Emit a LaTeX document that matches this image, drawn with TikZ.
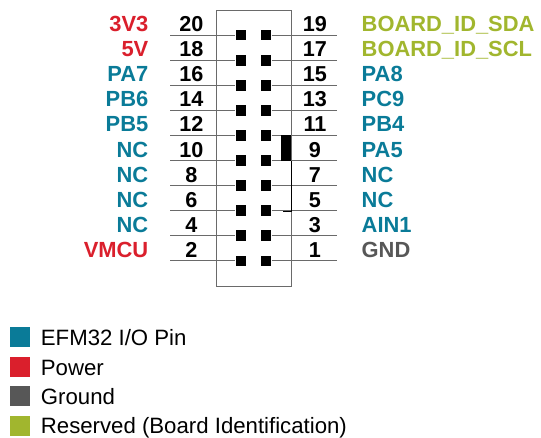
\documentclass[tikz,border=0pt]{standalone}
\usepackage{fontspec}
\setmainfont{Liberation Sans}
\definecolor{ioteal}{HTML}{0A7B98}
\definecolor{pwred}{HTML}{DA1F2C}
\definecolor{gndgrey}{HTML}{575757}
\definecolor{resgreen}{HTML}{A1B62E}
\definecolor{linegrey}{HTML}{6A6A6A}
\begin{document}
\begin{tikzpicture}[x=1pt,y=-1pt,
  pinnum/.style={inner sep=0pt,anchor=base,font=\fontsize{21.6}{24}\bfseries\selectfont},
  lbl/.style={inner sep=0pt,font=\fontsize{21.9}{24}\bfseries\selectfont},
  lbll/.style={lbl,anchor=base east},
  lblr/.style={lbl,anchor=base west},
  pad/.style={fill=black,draw=none,minimum size=10.8pt,inner sep=0pt},
  pinline/.style={draw=linegrey,line width=0.9pt},
  legsq/.style={draw=none,minimum size=20pt,inner sep=0pt,anchor=north west},
  legtxt/.style={inner sep=0pt,anchor=base west,font=\fontsize{22.2}{26}\selectfont}]
\useasboundingbox (0,0) rectangle (541,437);
% connector body
\draw[linegrey,line width=0.9pt] (216,10.7) rectangle (291,286);
% pin rows
\foreach \k/\ln/\ll/\lc/\rn/\rl/\rc in {
  0/20/3V3/pwred/19/BOARD\_ID\_SDA/resgreen,
  1/18/5V/pwred/17/BOARD\_ID\_SCL/resgreen,
  2/16/PA7/ioteal/15/PA8/ioteal,
  3/14/PB6/ioteal/13/PC9/ioteal,
  4/12/PB5/ioteal/11/PB4/ioteal,
  5/10/NC/ioteal/9/PA5/ioteal,
  6/8/NC/ioteal/7/NC/ioteal,
  7/6/NC/ioteal/5/NC/ioteal,
  8/4/NC/ioteal/3/AIN1/ioteal,
  9/2/VMCU/pwred/1/GND/gndgrey}{
  \pgfmathsetmacro{\yy}{35+25.1*\k}
  \pgfmathsetmacro{\yb}{\yy-3.5}
  \coordinate (lend\ln) at (170,\yy);
  \coordinate (rend\rn) at (337,\yy);
  \node[pad] (pad\ln) at (241,\yy) {};
  \node[pad] (pad\rn) at (266,\yy) {};
  \draw[pinline] (lend\ln) -- (pad\ln.west);
  \draw[pinline] (pad\rn.east) -- (rend\rn);
  \node[pinnum] (num\ln) at (191.5,\yb) {\ln};
  \node[pinnum] (num\rn) at (315,\yb) {\rn};
  \node[lbll,text=\lc] (lab\ln) at (148.5,\yb) {\ll};
  \node[lblr,text=\rc] (lab\rn) at (361.5,\yb) {\rl};
}
% key notch
\fill[black] (281,135) rectangle (291,161);
\draw[black,line width=0.9pt] (291,161) -- (291,211) -- (283,211);
% legend
\node[legsq,fill=ioteal] (sq1) at (10,327) {};
\node[legsq,fill=pwred] (sq2) at (10,356.5) {};
\node[legsq,fill=gndgrey] (sq3) at (10,386) {};
\node[legsq,fill=resgreen] (sq4) at (10,416) {};
\node[legtxt] (lt1) at (40.7,345.5) {EFM32 I/O Pin};
\node[legtxt] (lt2) at (40.7,375) {Power};
\node[legtxt] (lt3) at (40.7,404.5) {Ground};
\node[legtxt] (lt4) at (40.7,433) {Reserved (Board Identification)};
\end{tikzpicture}
\end{document}
